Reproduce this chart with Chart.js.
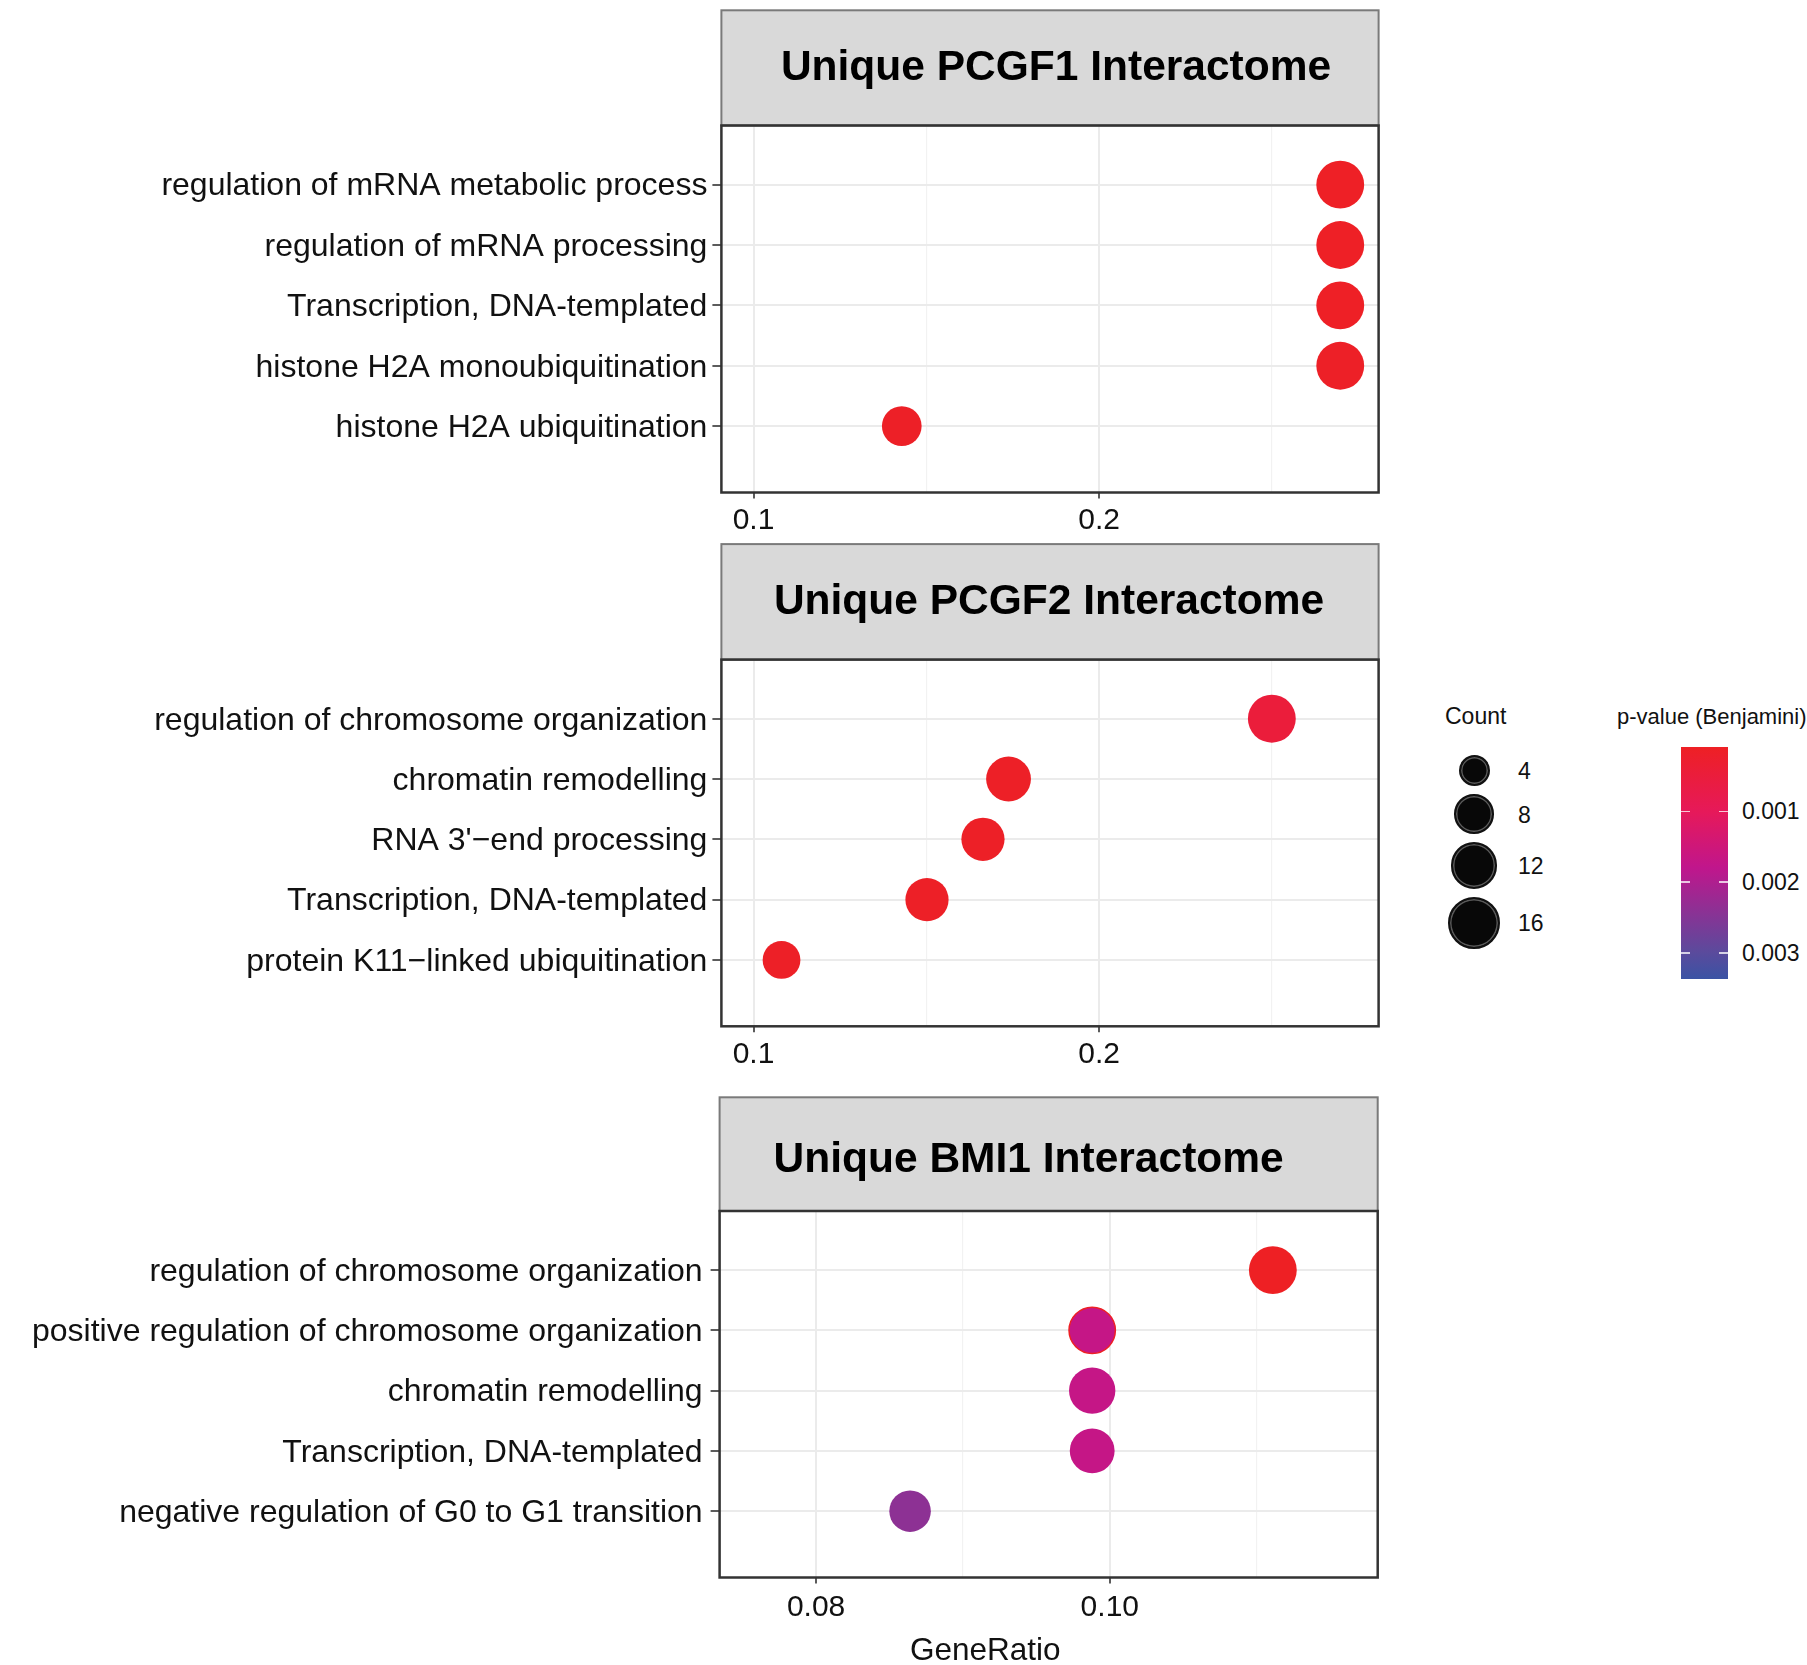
<!DOCTYPE html>
<html>
<head>
<meta charset="utf-8">
<script src="https://cdn.jsdelivr.net/npm/chart.js@4.4.1/dist/chart.umd.min.js"></script>
<style>
  body { margin: 0; background: #fff; width: 1807px; height: 1665px; position: relative; overflow: hidden;
         font-family: "Liberation Sans", Arial, sans-serif; color: #111; }
  canvas { position: absolute; left: 0; }
  .txt { position: absolute; white-space: nowrap; line-height: 1; }
  .key { position: absolute; border-radius: 50%; background: #080808; box-sizing: border-box;
         border: 2px solid #111; box-shadow: inset 0 0 0 1.5px #5a5a5a; }
  .bar { position: absolute; }
  .btick { position: absolute; height: 1.5px; width: 9px; background: rgba(255,255,255,.75); }
</style>
</head>
<body>
<canvas id="pcgf1" width="1390" height="540" style="top:0px"></canvas>
<canvas id="pcgf2" width="1390" height="540" style="top:540px"></canvas>
<canvas id="bmi1" width="1390" height="585" style="top:1080px"></canvas>
<div id="legend"></div>
<div class="txt" id="xtitle" style="font-size:31.5px;left:910px;top:1634px">GeneRatio</div>

<script>
/* ── DATA ── */
const pcgf1Terms = ["regulation of mRNA metabolic process", "regulation of mRNA processing",
  "Transcription, DNA-templated", "histone H2A monoubiquitination", "histone H2A ubiquitination"];
const pcgf1Ratio = [0.2698, 0.2698, 0.2698, 0.2698, 0.1429];
const pcgf1Count = [13, 13, 13, 13, 8];
const pcgf1Padj  = [0.00012, 0.00012, 0.00012, 0.00015, 0.00015];

const pcgf2Terms = ["regulation of chromosome organization", "chromatin remodelling",
  "RNA 3'\u2212end processing", "Transcription, DNA-templated", "protein K11\u2212linked ubiquitination"];
const pcgf2Ratio = [0.25, 0.1738, 0.1664, 0.1502, 0.1081];
const pcgf2Count = [13, 11, 10, 10, 7];
const pcgf2Padj  = [0.00049, 0.00015, 0.00015, 0.00015, 0.00015];

const bmi1Terms = ["regulation of chromosome organization", "positive regulation of chromosome organization",
  "chromatin remodelling", "Transcription, DNA-templated", "negative regulation of G0 to G1 transition"];
const bmi1Ratio = [0.1111, 0.0988, 0.0988, 0.0988, 0.0864];
const bmi1Count = [13, 12, 12, 11, 9];
const bmi1Padj  = [0.0001, 0.0017, 0.0017, 0.0017, 0.0024];

const ratioTicksWide = [0.1, 0.2];          // labelled breaks, PCGF1 / PCGF2
const ratioLabelsWide = ["0.1", "0.2"];
const ratioMinorWide = [0.15, 0.25];
const ratioTicksBmi1 = [0.08, 0.10];
const ratioLabelsBmi1 = ["0.08", "0.10"];
const ratioMinorBmi1 = [0.09, 0.11];

const countBreaks = [4, 8, 12, 16];
const pvalBreaks = [0.001, 0.002, 0.003];
const pvalLabels = ["0.001", "0.002", "0.003"];
const pvalRange = [0.000092, 0.003367];

/* ── SCALES ── */
const FONT = '"Liberation Sans", Arial, sans-serif';
Chart.defaults.font.family = FONT;

const gradStops = [[0, '#EE2024'], [0.28, '#E6195A'], [0.52, '#C0168C'], [0.88, '#5C4A9C'], [1, '#3A53A4']];

function hexToRgb(h) {
  const n = parseInt(h.slice(1), 16);
  return [n >> 16 & 255, n >> 8 & 255, n & 255];
}

function pColor(p) {
  let t = (p - pvalRange[0]) / (pvalRange[1] - pvalRange[0]);
  t = Math.max(0, Math.min(1, t));
  for (let i = 1; i < gradStops.length; i++) {
    if (t <= gradStops[i][0]) {
      const [t0, c0] = gradStops[i - 1], [t1, c1] = gradStops[i];
      const f = (t - t0) / (t1 - t0);
      const a = hexToRgb(c0), b = hexToRgb(c1);
      return `rgb(${a.map((v, k) => Math.round(v + (b[k] - v) * f)).join(',')})`;
    }
  }
  return gradStops[gradStops.length - 1][1];
}

function sizeOf(count) { return 5 + 5.25 * Math.sqrt(count); }

const near = (a, b) => Math.abs(a - b) < 1e-9;

/* ── FACET STRIP + PANEL BORDER ── */
const stripPlugin = {
  id: 'strip',
  afterDraw(chart, args, o) {
    const { ctx, chartArea: a } = chart;
    const w = a.right - a.left, top = a.top - o.height;
    ctx.save();
    ctx.fillStyle = '#D9D9D9';
    ctx.fillRect(a.left, top, w, o.height);
    ctx.strokeStyle = '#7A7A7A'; ctx.lineWidth = 2;
    ctx.strokeRect(a.left, top, w, o.height);
    ctx.strokeStyle = '#333'; ctx.lineWidth = 2.5;
    ctx.strokeRect(a.left, a.top, w, a.bottom - a.top);
    ctx.fillStyle = '#000';
    ctx.font = `bold 42.5px ${FONT}`;
    ctx.textBaseline = 'alphabetic';
    if (o.offset == null) {
      ctx.textAlign = 'center';
      ctx.fillText(o.text, a.left + w / 2 + (o.dx || 0), top + o.baseline);
    } else {
      ctx.textAlign = 'left';
      ctx.fillText(o.text, a.left + o.offset, top + o.baseline);
    }
    ctx.restore();
  }
};

function makePanel(id, p) {
  const n = p.terms.length;
  const allTicks = [...p.major, ...p.minor].sort((a, b) => a - b);
  const isMajor = v => p.major.some(m => near(m, v));
  return new Chart(document.getElementById(id), {
    type: 'bubble',
    data: {
      datasets: [{
        data: p.ratio.map((x, i) => ({ x, y: n - i, r: sizeOf(p.count[i]) })),
        backgroundColor: p.padj.map(pColor),
        borderColor: p.ring || 'rgba(0,0,0,0)',
        borderWidth: p.ringWidth || 0
      }]
    },
    options: {
      responsive: false, animation: false, events: [],
      layout: { autoPadding: false, padding: { top: p.padTop, right: 1390 - p.right, left: 0, bottom: 0 } },
      plugins: {
        legend: { display: false }, tooltip: { enabled: false },
        strip: { text: p.title, height: p.stripH, baseline: p.baseline, offset: p.offset, dx: p.dx }
      },
      scales: {
        x: {
          type: 'linear', min: p.xmin, max: p.xmax,
          afterBuildTicks: s => { s.ticks = allTicks.map(v => ({ value: v })); },
          afterFit: s => { s.height = p.axisH; s.paddingLeft = 0; s.paddingRight = 0; },
          border: { display: false },
          grid: {
            color: c => isMajor(c.tick.value) ? '#EBEBEB' : '#F2F2F2',
            lineWidth: c => isMajor(c.tick.value) ? 2 : 1.2,
            tickLength: 6, tickWidth: 1.6,
            tickColor: c => isMajor(c.tick.value) ? '#333' : 'rgba(0,0,0,0)'
          },
          ticks: {
            autoSkip: false, maxRotation: 0, padding: p.xPad, color: '#111', font: { size: 30 },
            callback: v => { const i = p.major.findIndex(m => near(m, v)); return i < 0 ? '' : p.labels[i]; }
          }
        },
        y: {
          type: 'linear', min: -0.1, max: 5.98,
          afterBuildTicks: s => { s.ticks = p.terms.map((t, i) => ({ value: i + 1 })); },
          afterFit: s => { s.width = p.left; s.paddingTop = 0; s.paddingBottom = 0; },
          border: { display: false },
          grid: { color: '#EBEBEB', lineWidth: 2, tickLength: 9, tickWidth: 1.6, tickColor: '#333' },
          ticks: {
            autoSkip: false, padding: p.yPad, labelOffset: 2, color: '#111', font: { size: 32 },
            callback: v => p.terms[n - v]
          }
        }
      }
    },
    plugins: [stripPlugin]
  });
}

makePanel('pcgf1', {
  title: 'Unique PCGF1 Interactome', terms: pcgf1Terms, ratio: pcgf1Ratio, count: pcgf1Count, padj: pcgf1Padj,
  major: ratioTicksWide, labels: ratioLabelsWide, minor: ratioMinorWide, xmin: 0.0907, xmax: 0.2809,
  left: 721.4, right: 1378.6, padTop: 125.5, axisH: 47.5, stripH: 115.2, baseline: 70, dx: 6,
  xPad: 4, yPad: 5
});
makePanel('pcgf2', {
  title: 'Unique PCGF2 Interactome', terms: pcgf2Terms, ratio: pcgf2Ratio, count: pcgf2Count, padj: pcgf2Padj,
  major: ratioTicksWide, labels: ratioLabelsWide, minor: ratioMinorWide, xmin: 0.0907, xmax: 0.2809,
  left: 721.4, right: 1378.6, padTop: 119.6, axisH: 53.7, stripH: 115.5, baseline: 69.6, dx: -1,
  xPad: 4, yPad: 5
});
makePanel('bmi1', {
  title: 'Unique BMI1 Interactome', terms: bmi1Terms, ratio: bmi1Ratio, count: bmi1Count, padj: bmi1Padj,
  major: ratioTicksBmi1, labels: ratioLabelsBmi1, minor: ratioMinorBmi1, xmin: 0.07343, xmax: 0.11824,
  left: 719.6, right: 1377.7, padTop: 131, axisH: 87.5, stripH: 113.7, baseline: 74.5, offset: 54,
  xPad: 6, yPad: 8,
  ring: ['rgba(0,0,0,0)', '#EE2024', 'rgba(0,0,0,0)', 'rgba(0,0,0,0)', 'rgba(0,0,0,0)'],
  ringWidth: [0, 1.5, 0, 0, 0]
});

/* ── LEGENDS ── */
(function buildLegend() {
  const box = document.getElementById('legend');
  const add = (html) => box.insertAdjacentHTML('beforeend', html);

  // size legend
  add(`<div class="txt" style="font-size:23px;left:1445px;top:705px">Count</div>`);
  let cy = 770.7;
  countBreaks.forEach((c, i) => {
    const r = sizeOf(c);
    if (i > 0) cy += sizeOf(countBreaks[i - 1]) + r + 8.2;
    add(`<div class="key" style="left:${1474 - r}px;top:${cy - r}px;width:${2 * r}px;height:${2 * r}px"></div>`);
    add(`<div class="txt" style="font-size:23px;left:1518px;top:${cy - 10.5}px">${c}</div>`);
  });

  // colour bar
  const barTop = 747, barH = 232, barL = 1681, barW = 47;
  add(`<div class="txt" style="font-size:22px;left:1617px;top:706px">p-value (Benjamini)</div>`);
  const grad = gradStops.map(([t, c]) => `${c} ${(t * 100).toFixed(1)}%`).join(',');
  add(`<div class="bar" style="left:${barL}px;top:${barTop}px;width:${barW}px;height:${barH}px;background:linear-gradient(to bottom,${grad})"></div>`);
  pvalBreaks.forEach((p, i) => {
    const y = barTop + (p - pvalRange[0]) / (pvalRange[1] - pvalRange[0]) * barH;
    add(`<div class="btick" style="left:${barL}px;top:${y - 0.75}px"></div>`);
    add(`<div class="btick" style="left:${barL + barW - 9}px;top:${y - 0.75}px"></div>`);
    add(`<div class="txt" style="font-size:23px;left:1742px;top:${y - 11}px">${pvalLabels[i]}</div>`);
  });
})();
</script>
</body>
</html>
